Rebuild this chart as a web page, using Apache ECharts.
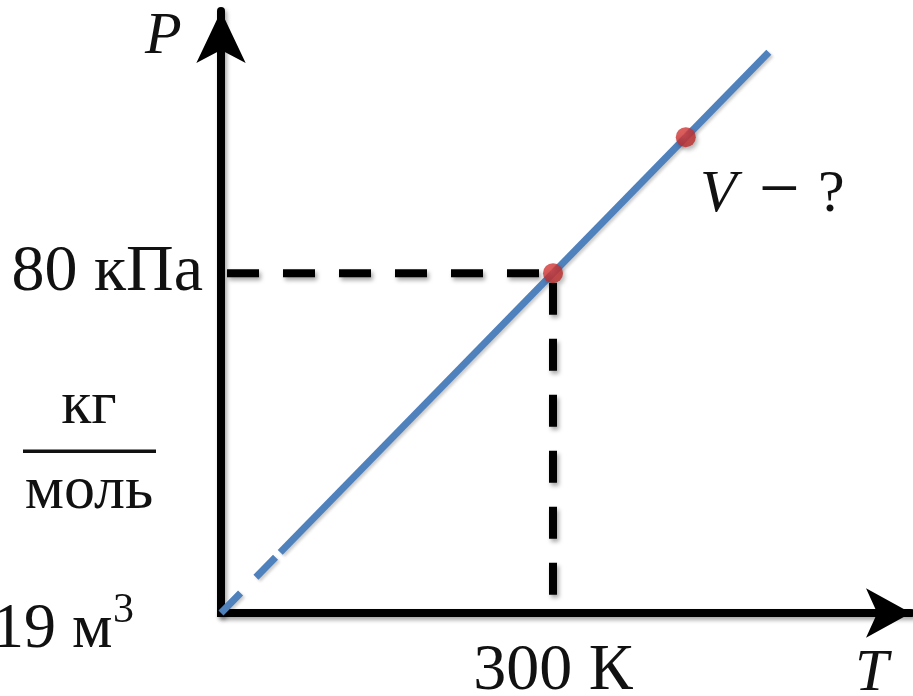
<!DOCTYPE html>
<html>
<head>
<meta charset="utf-8">
<title>Изохорный процесс: P(T)</title>
<script src="https://cdn.jsdelivr.net/npm/echarts@6/dist/echarts.min.js"></script>
<style>
  html, body { margin: 0; padding: 0; background: #fff; }
  #chart { width: 913px; height: 696px; }
</style>
</head>
<body>
<div id="chart"></div>
<script>
// Isochore through the origin: P grows linearly with T (kPa vs K)
const isochoreDashed = [[0, 0], [51.5, 13.73]];
const isochoreSolid = [[53.5, 14.27], [495, 132]];

// Known state and the sought state on the same isochore
const knownState = [[300, 80]];
const soughtState = [[420, 112]];

// Projection lines from the known state onto both axes
const projP = [[0, 80], [300, 80]];
const projT = [[300, 80], [300, 0]];

// Axis extents and the tick that carries a label
const tMax = 623.5;
const pMax = 141.7;
const tTick = 300;
const pTick = 80;
const tLabel = '300 К';
const pLabel = '80 кПа';

const SERIF = '"Liberation Serif", "DejaVu Serif", serif';
const INK = '#111';
const shadow = { shadowColor: 'rgba(0,0,0,0.35)', shadowBlur: 4, shadowOffsetX: 2, shadowOffsetY: 3 };

const chart = echarts.init(document.getElementById('chart'), null, { renderer: 'canvas' });

const axisLineStyle = Object.assign({ color: '#000', width: 8 }, shadow);

function txt(x, y, text, size, extra) {
  return {
    type: 'text', x: x, y: y, z: 10,
    style: Object.assign({ text: text, fill: INK, fontFamily: SERIF, fontSize: size, verticalAlign: 'middle' }, extra || {})
  };
}

chart.setOption({
  animation: false,
  backgroundColor: '#fff',
  grid: { left: 221, right: 2, top: 11, bottom: 83, outerBoundsMode: 'none', containLabel: false },
  xAxis: {
    type: 'value', min: 0, max: tMax, interval: tTick,
    axisLine: { show: true, symbol: ['none', 'arrow'], symbolSize: [37, 45], lineStyle: axisLineStyle },
    axisTick: { show: false },
    splitLine: { show: false },
    axisLabel: {
      show: true, margin: 26, color: INK, fontFamily: SERIF, fontSize: 66,
      showMinLabel: false, showMaxLabel: false,
      formatter: v => (v === tTick ? tLabel : '')
    }
  },
  yAxis: {
    type: 'value', min: 0, max: pMax, interval: pTick,
    axisLine: { show: true, symbol: ['none', 'arrow'], symbolSize: [37, 52], lineStyle: axisLineStyle },
    axisTick: { show: false },
    splitLine: { show: false },
    axisLabel: {
      show: true, margin: 18, color: INK, fontFamily: SERIF, fontSize: 66,
      showMinLabel: false,
      formatter: v => (v === pTick ? pLabel : '')
    }
  },
  series: [
    {
      type: 'line', data: projP, symbol: 'none', z: 2,
      lineStyle: Object.assign({ color: '#000', width: 8, type: [32, 24], dashOffset: 50 }, shadow)
    },
    {
      type: 'line', data: projT, symbol: 'none', z: 2,
      lineStyle: Object.assign({ color: '#000', width: 8, type: [32, 24], dashOffset: 46.5 }, shadow)
    },
    {
      type: 'line', data: isochoreDashed, symbol: 'none', z: 3,
      lineStyle: { color: '#4F81BD', width: 7, type: [28, 22], shadowColor: 'rgba(0,0,0,0.2)', shadowBlur: 3, shadowOffsetX: 2, shadowOffsetY: 2 }
    },
    {
      type: 'line', data: isochoreSolid, symbol: 'none', z: 3,
      lineStyle: { color: '#4F81BD', width: 7, shadowColor: 'rgba(0,0,0,0.2)', shadowBlur: 3, shadowOffsetX: 2, shadowOffsetY: 2 }
    },
    {
      type: 'scatter', data: knownState.concat(soughtState), symbolSize: 20, z: 5,
      itemStyle: {
        color: new echarts.graphic.RadialGradient(0.4, 0.35, 0.7, [
          { offset: 0, color: '#e2423f' },
          { offset: 1, color: '#b8292a' }
        ]),
        shadowColor: 'rgba(0,0,0,0.35)', shadowBlur: 4, shadowOffsetX: 2, shadowOffsetY: 3
      }
    }
  ],
  graphic: [
    // square corner where the two axis lines meet
    { type: 'rect', z: 1, shape: { x: 217, y: 609, width: 8, height: 8 }, style: { fill: '#000' } },
    txt(145, 37, 'P', 60, { fontStyle: 'italic' }),
    txt(855, 674, 'T', 60, { fontStyle: 'italic' }),
    txt(700, 195, 'V', 60, { fontStyle: 'italic' }),
    txt(759, 193, '−', 72),
    txt(818, 195, '?', 60),
    txt(89, 407, 'кг', 62, { align: 'center' }),
    { type: 'rect', shape: { x: 23, y: 449.5, width: 133, height: 3.5 }, style: { fill: INK } },
    txt(89, 492, 'моль', 62, { align: 'center' }),
    txt(-8, 630, '19 м', 64),
    txt(113, 611, '3', 42)
  ]
});
</script>
</body>
</html>
